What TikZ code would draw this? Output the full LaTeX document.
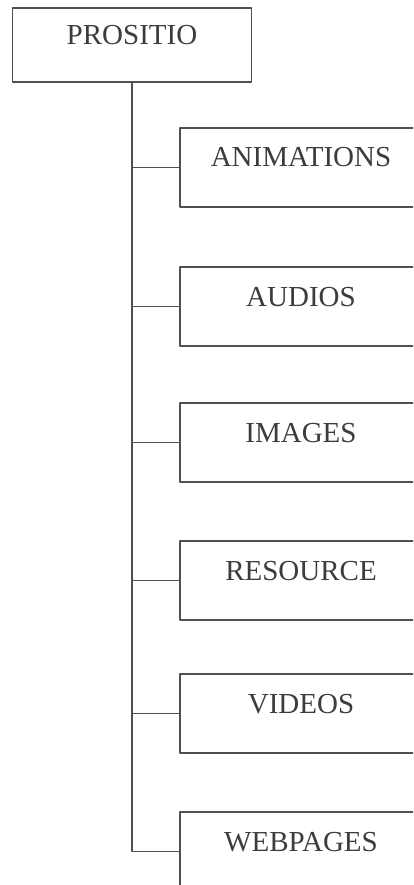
\documentclass[tikz,border=0pt]{standalone}
\usepackage{fontspec}
\setmainfont{Liberation Serif}
\usepackage{xcolor}
\usepackage{tikz}
\definecolor{prInk}{HTML}{3C3C3C}
\definecolor{prLine}{HTML}{505050}
\tikzset{
  pr diagram/.style={x=1pt, y=-1pt, font=\fontsize{29}{33}\selectfont,
    text=prInk, line cap=round, line join=round},
  pr box/.style={draw=prLine, fill=white, line width=1.1pt,
    inner sep=0pt, text height=18pt, text depth=19pt},
  pr root/.style={pr box, minimum width=239pt, minimum height=74pt},
  pr item/.style={pr box, minimum width=242pt, minimum height=79pt},
  pr link/.style={draw=prLine, line width=1.1pt}
}

\begin{document}
\begin{tikzpicture}[pr diagram]
\useasboundingbox (0,0) rectangle (413,885);
\clip (0,0) rectangle (413,885);
\node[pr root] (root) at (132,45) {PROSITIO};
\node[pr item] (anim) at (301,167.5) {ANIMATIONS};
\node[pr item] (audio) at (301,306.5) {AUDIOS};
\node[pr item] (image) at (301,442.5) {IMAGES};
\node[pr item] (res) at (301,580.5) {RESOURCE};
\node[pr item] (video) at (301,713.5) {VIDEOS};
\node[pr item] (web) at (301,851.5) {WEBPAGES};
\draw[pr link] (root.south) |- (anim.west);
\draw[pr link] (root.south) |- (audio.west);
\draw[pr link] (root.south) |- (image.west);
\draw[pr link] (root.south) |- (res.west);
\draw[pr link] (root.south) |- (video.west);
\draw[pr link] (root.south) |- (web.west);
\end{tikzpicture}
\end{document}
